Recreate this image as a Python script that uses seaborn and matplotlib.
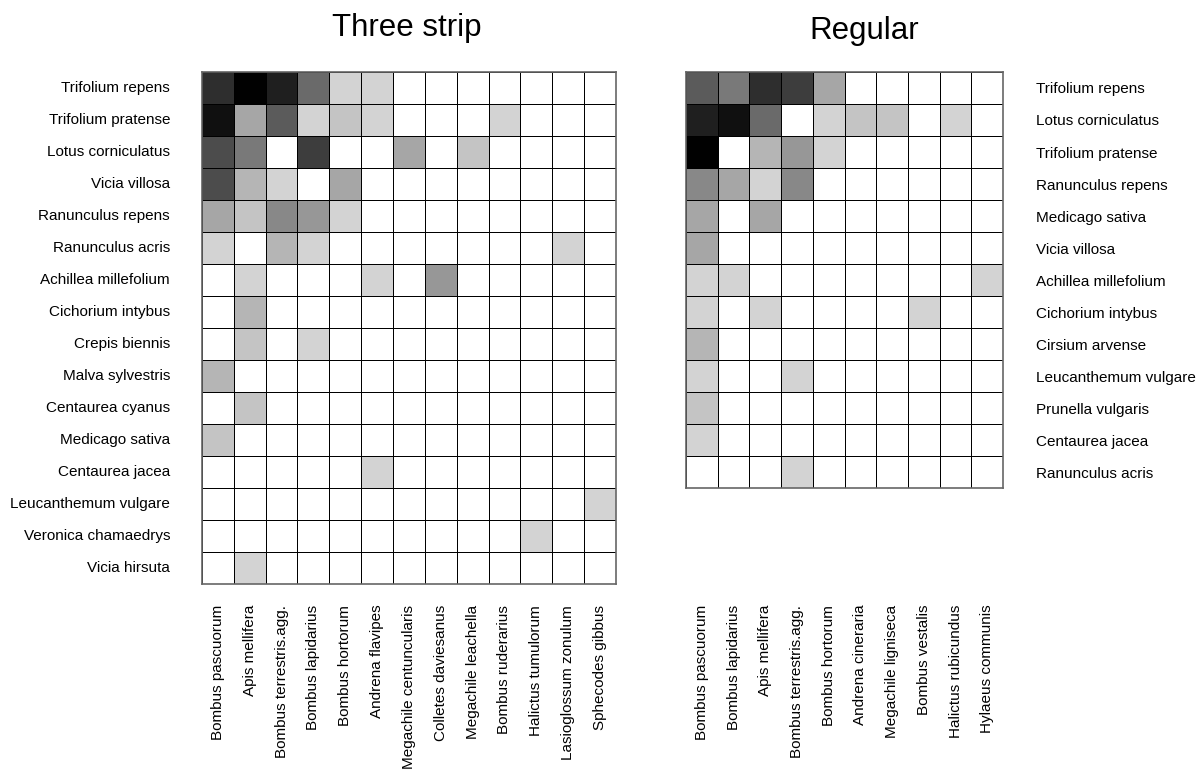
import numpy as np
import pandas as pd
import matplotlib
matplotlib.use('Agg')
import matplotlib.pyplot as plt
from matplotlib.colors import ListedColormap
import seaborn as sns

# interaction strength classes (0 = no interaction, 15 = strongest)
strip_plants = ['Trifolium repens', 'Trifolium pratense', 'Lotus corniculatus', 'Vicia villosa',
                'Ranunculus repens', 'Ranunculus acris', 'Achillea millefolium', 'Cichorium intybus',
                'Crepis biennis', 'Malva sylvestris', 'Centaurea cyanus', 'Medicago sativa',
                'Centaurea jacea', 'Leucanthemum vulgare', 'Veronica chamaedrys', 'Vicia hirsuta']
strip_bees = ['Bombus pascuorum', 'Apis mellifera', 'Bombus terrestris.agg.', 'Bombus lapidarius',
              'Bombus hortorum', 'Andrena flavipes', 'Megachile centuncularis', 'Colletes daviesanus',
              'Megachile leachella', 'Bombus ruderarius', 'Halictus tumulorum', 'Lasioglossum zonulum',
              'Sphecodes gibbus']
strip_values = [
    [12, 15, 13, 8, 1, 1, 0, 0, 0, 0, 0, 0, 0],
    [14, 4, 9, 1, 2, 1, 0, 0, 0, 1, 0, 0, 0],
    [10, 7, 0, 11, 0, 0, 4, 0, 2, 0, 0, 0, 0],
    [10, 3, 1, 0, 4, 0, 0, 0, 0, 0, 0, 0, 0],
    [4, 2, 6, 5, 1, 0, 0, 0, 0, 0, 0, 0, 0],
    [1, 0, 3, 1, 0, 0, 0, 0, 0, 0, 0, 1, 0],
    [0, 1, 0, 0, 0, 1, 0, 5, 0, 0, 0, 0, 0],
    [0, 3, 0, 0, 0, 0, 0, 0, 0, 0, 0, 0, 0],
    [0, 2, 0, 1, 0, 0, 0, 0, 0, 0, 0, 0, 0],
    [3, 0, 0, 0, 0, 0, 0, 0, 0, 0, 0, 0, 0],
    [0, 2, 0, 0, 0, 0, 0, 0, 0, 0, 0, 0, 0],
    [2, 0, 0, 0, 0, 0, 0, 0, 0, 0, 0, 0, 0],
    [0, 0, 0, 0, 0, 1, 0, 0, 0, 0, 0, 0, 0],
    [0, 0, 0, 0, 0, 0, 0, 0, 0, 0, 0, 0, 1],
    [0, 0, 0, 0, 0, 0, 0, 0, 0, 0, 1, 0, 0],
    [0, 1, 0, 0, 0, 0, 0, 0, 0, 0, 0, 0, 0],
]

regular_plants = ['Trifolium repens', 'Lotus corniculatus', 'Trifolium pratense', 'Ranunculus repens',
                  'Medicago sativa', 'Vicia villosa', 'Achillea millefolium', 'Cichorium intybus',
                  'Cirsium arvense', 'Leucanthemum vulgare', 'Prunella vulgaris', 'Centaurea jacea',
                  'Ranunculus acris']
regular_bees = ['Bombus pascuorum', 'Bombus lapidarius', 'Apis mellifera', 'Bombus terrestris.agg.',
                'Bombus hortorum', 'Andrena cineraria', 'Megachile ligniseca', 'Bombus vestalis',
                'Halictus rubicundus', 'Hylaeus communis']
regular_values = [
    [9, 7, 12, 11, 4, 0, 0, 0, 0, 0],
    [13, 14, 8, 0, 1, 2, 2, 0, 1, 0],
    [15, 0, 3, 5, 1, 0, 0, 0, 0, 0],
    [6, 4, 1, 6, 0, 0, 0, 0, 0, 0],
    [4, 0, 4, 0, 0, 0, 0, 0, 0, 0],
    [4, 0, 0, 0, 0, 0, 0, 0, 0, 0],
    [1, 1, 0, 0, 0, 0, 0, 0, 0, 1],
    [1, 0, 1, 0, 0, 0, 0, 1, 0, 0],
    [3, 0, 0, 0, 0, 0, 0, 0, 0, 0],
    [1, 0, 0, 1, 0, 0, 0, 0, 0, 0],
    [2, 0, 0, 0, 0, 0, 0, 0, 0, 0],
    [1, 0, 0, 0, 0, 0, 0, 0, 0, 0],
    [0, 0, 0, 1, 0, 0, 0, 0, 0, 0],
]

plt.rcParams['font.family'] = ['Liberation Sans', 'DejaVu Sans']

# white for zero, then light grey down to black
greys = [(1, 1, 1)] + [((211 - 15 * i) / 255,) * 3 for i in range(15)]
cmap = ListedColormap(greys)

fig = plt.figure(figsize=(12, 7.75), dpi=100)
ax1 = fig.add_axes([0.1683, 0.2465, 0.345, 0.6606])
ax2 = fig.add_axes([0.5717, 0.3703, 0.2642, 0.5368])

df1 = pd.DataFrame(strip_values, index=strip_plants, columns=strip_bees)
df2 = pd.DataFrame(regular_values, index=regular_plants, columns=regular_bees)

for ax, df in [(ax1, df1), (ax2, df2)]:
    sns.heatmap(df, ax=ax, cmap=cmap, vmin=-0.5, vmax=15.5, cbar=False,
                linewidths=0.7, linecolor='black')
    for s in ax.spines.values():
        s.set_visible(True)
        s.set_color('#666666')
        s.set_linewidth(1.2)
    ax.set_xticklabels(df.columns, rotation=90, fontsize=11)
    ax.set_yticklabels(df.index, rotation=0, fontsize=11)
    ax.set_xlabel('')
    ax.set_ylabel('')

ax1.tick_params(axis='x', length=0, pad=15)
ax1.tick_params(axis='y', length=0, pad=23)
ax2.tick_params(axis='x', length=0, pad=84)
ax2.yaxis.tick_right()
ax2.tick_params(axis='y', length=0, pad=24)

fig.text(407 / 1200, 1 - 28 / 775, 'Three strip', ha='center', va='center', fontsize=22.5)
fig.text(864 / 1200, 1 - 31 / 775, 'Regular', ha='center', va='center', fontsize=22.5)

fig.savefig('out.png', dpi=100, facecolor='white')
